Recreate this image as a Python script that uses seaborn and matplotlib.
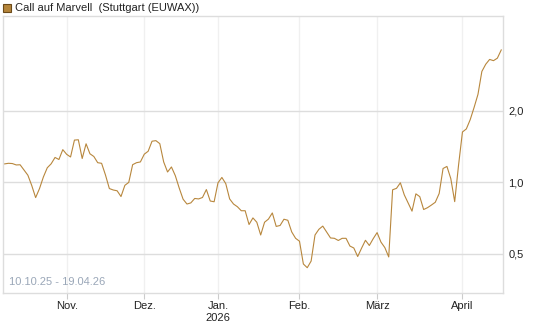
import matplotlib
matplotlib.use("Agg")
import matplotlib.pyplot as plt
import matplotlib.ticker as mticker
from matplotlib.patches import Rectangle
import seaborn as sns
import pandas as pd

# trading-day index (Stuttgart, 10.10.25 - 17.04.26)
kurs = [1.195, 1.202, 1.199, 1.183, 1.185, 1.126, 1.071, 0.969, 0.862, 0.941,
        1.053, 1.151, 1.196, 1.272, 1.247, 1.372, 1.311, 1.278, 1.505, 1.510,
        1.259, 1.452, 1.318, 1.284, 1.209, 1.202, 1.073, 0.941, 0.928, 0.921,
        0.871, 0.971, 0.999, 1.186, 1.209, 1.218, 1.313, 1.351, 1.489, 1.497,
        1.454, 1.218, 1.105, 1.160, 1.066, 0.946, 0.849, 0.810, 0.819, 0.855,
        0.851, 0.863, 0.932, 0.834, 0.828, 0.995, 1.048, 0.987, 0.851, 0.810,
        0.789, 0.759, 0.759, 0.664, 0.708, 0.679, 0.600, 0.679, 0.700, 0.743,
        0.652, 0.658, 0.699, 0.692, 0.618, 0.581, 0.565, 0.453, 0.437, 0.466,
        0.600, 0.634, 0.654, 0.618, 0.583, 0.581, 0.569, 0.581, 0.581, 0.539,
        0.529, 0.487, 0.528, 0.570, 0.542, 0.579, 0.614, 0.560, 0.531, 0.485,
        0.930, 0.943, 0.995, 0.886, 0.818, 0.756, 0.894, 0.870, 0.768, 0.782,
        0.802, 0.824, 0.897, 1.143, 1.166, 1.036, 0.829, 1.183, 1.628, 1.677,
        1.835, 2.065, 2.345, 2.927, 3.139, 3.289, 3.250, 3.330, 3.606]

monat_pos = [16, 36, 55, 76, 96, 118]
monat_labels = ["Nov.", "Dez.", "Jan.\n2026", "Feb.", "März", "April"]
y_ticks = [0.5, 1.0, 2.0]
y_labels = ["0,5", "1,0", "2,0"]

df = pd.DataFrame({"tag": range(len(kurs)), "kurs": kurs})

plt.rcParams["font.family"] = ["Liberation Sans", "DejaVu Sans"]

fig = plt.figure(figsize=(5.45, 3.27), dpi=100)
ax = fig.add_axes([3 / 545, 1 - 293 / 327, 500 / 545, 277 / 327])

sns.lineplot(data=df, x="tag", y="kurs", color="#b8873d", linewidth=0.8, ax=ax)

ax.set_yscale("log")
ax.set_ylim(0.342, 5.01)
ax.set_xlim(-0.41, 128.45)

ax.yaxis.tick_right()
ax.set_yticks(y_ticks)
ax.set_yticklabels(y_labels)
ax.yaxis.set_minor_locator(mticker.NullLocator())
ax.set_xticks(monat_pos)
ax.set_xticklabels(monat_labels)
ax.tick_params(axis="y", length=0, pad=4, labelsize=8, labelcolor="#222222")
ax.tick_params(axis="x", length=4, color="#cccccc", pad=2, labelsize=8,
               labelcolor="#222222")
ax.set_xlabel("")
ax.set_ylabel("")

ax.grid(axis="y", color="#dddddd", linewidth=1)
ax.grid(axis="x", color="#f0f0f0", linewidth=1)
ax.set_axisbelow(True)
for s in ax.spines.values():
    s.set_color("#dddddd")
    s.set_linewidth(1)

ax.text(0.012, 0.02, "10.10.25 - 19.04.26", transform=ax.transAxes,
        fontsize=8, color="#9aa7b8", ha="left", va="bottom")

fig.patches.append(Rectangle((3 / 545, 1 - 12 / 327), 8 / 545, 8 / 327,
                             transform=fig.transFigure, facecolor="#b5853a",
                             edgecolor="#6b4a1a", linewidth=0.8))
fig.text(15 / 545, 1 - 8 / 327, "Call auf Marvell  (Stuttgart (EUWAX))",
         fontsize=8, color="#222222", ha="left", va="center")

fig.savefig("out.png", dpi=100)
